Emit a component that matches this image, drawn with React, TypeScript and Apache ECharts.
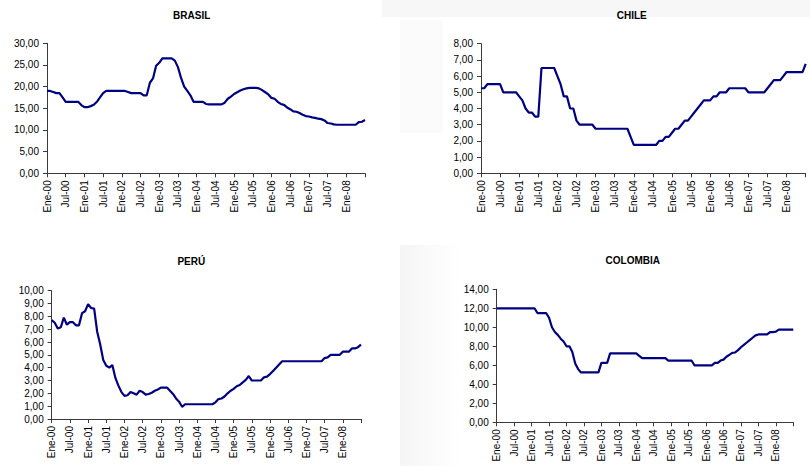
import React, { useEffect, useRef } from "react";
import * as echarts from "echarts";

const monthNames = ["Ene", "Feb", "Mar", "Abr", "May", "Jun", "Jul", "Ago", "Sep", "Oct", "Nov", "Dic"];
const years = ["00", "01", "02", "03", "04", "05", "06", "07", "08"];
const lastMonthOf2008 = 7; // Ene-00 .. Jul-08

const months: string[] = [];
years.forEach((y, yi) => {
  monthNames.forEach((m, mi) => {
    if (yi < years.length - 1 || mi < lastMonthOf2008) months.push(m + "-" + y);
  });
});

const titles = ["BRASIL", "CHILE", "PERÚ", "COLOMBIA"];

const brasil = [
  19.0, 19.0, 18.75, 18.5, 18.5, 17.5, 16.5, 16.5, 16.5, 16.5, 16.5, 15.75,
  15.25, 15.25, 15.5, 15.8, 16.5, 17.5, 18.5, 19.0, 19.0, 19.0, 19.0, 19.0,
  19.0, 19.0, 18.75, 18.5, 18.5, 18.5, 18.5, 18.0, 18.0, 20.9, 21.9, 24.8,
  25.5, 26.5, 26.5, 26.5, 26.5, 26.0, 24.5, 22.0, 20.0, 19.0, 18.0, 16.5,
  16.5, 16.5, 16.5, 16.0, 15.9, 15.9, 15.9, 15.9, 15.9, 16.3, 17.2, 17.7,
  18.3, 18.7, 19.1, 19.4, 19.6, 19.7, 19.7, 19.7, 19.6, 19.2, 18.7, 18.2,
  17.4, 17.2, 16.5, 16.0, 15.8, 15.2, 14.8, 14.3, 14.2, 13.9, 13.5, 13.2,
  13.1, 12.9, 12.8, 12.6, 12.5, 12.2, 11.6, 11.5, 11.3, 11.2, 11.2, 11.2,
  11.2, 11.2, 11.2, 11.2, 11.8, 11.9, 12.3,
];

const chile = [
  5.25, 5.25, 5.5, 5.5, 5.5, 5.5, 5.5, 5.0, 5.0, 5.0, 5.0, 5.0,
  4.75, 4.5, 4.0, 3.75, 3.75, 3.5, 3.5, 6.5, 6.5, 6.5, 6.5, 6.5,
  6.0, 5.5, 4.75, 4.75, 4.0, 4.0, 3.25, 3.0, 3.0, 3.0, 3.0, 3.0,
  2.75, 2.75, 2.75, 2.75, 2.75, 2.75, 2.75, 2.75, 2.75, 2.75, 2.75, 2.25,
  1.75, 1.75, 1.75, 1.75, 1.75, 1.75, 1.75, 1.75, 2.0, 2.0, 2.25, 2.25,
  2.5, 2.75, 2.75, 3.0, 3.25, 3.25, 3.5, 3.75, 4.0, 4.25, 4.5, 4.5,
  4.5, 4.75, 4.75, 5.0, 5.0, 5.0, 5.25, 5.25, 5.25, 5.25, 5.25, 5.25,
  5.0, 5.0, 5.0, 5.0, 5.0, 5.0, 5.25, 5.5, 5.75, 5.75, 5.75, 6.0,
  6.25, 6.25, 6.25, 6.25, 6.25, 6.25, 6.75,
];

const peru = [
  7.7, 7.5, 7.05, 7.15, 7.9, 7.35, 7.55, 7.55, 7.3, 7.3, 8.25, 8.4,
  8.95, 8.65, 8.6, 6.8, 5.8, 4.6, 4.15, 4.0, 4.2, 3.2, 2.6, 2.1,
  1.8, 1.85, 2.1, 2.0, 1.9, 2.2, 2.1, 1.9, 1.95, 2.05, 2.2, 2.3,
  2.45, 2.45, 2.45, 2.2, 1.95, 1.6, 1.35, 0.95, 1.15, 1.15, 1.15, 1.15,
  1.15, 1.15, 1.15, 1.15, 1.15, 1.15, 1.3, 1.55, 1.6, 1.75, 2.0, 2.2,
  2.35, 2.55, 2.65, 2.85, 3.05, 3.35, 3.0, 3.0, 3.0, 3.0, 3.25, 3.3,
  3.5, 3.75, 4.0, 4.25, 4.5, 4.5, 4.5, 4.5, 4.5, 4.5, 4.5, 4.5,
  4.5, 4.5, 4.5, 4.5, 4.5, 4.5, 4.75, 4.8, 5.0, 5.0, 5.0, 5.0,
  5.25, 5.25, 5.25, 5.5, 5.5, 5.6, 5.8,
];

const colombia = [
  12.0, 12.0, 12.0, 12.0, 12.0, 12.0, 12.0, 12.0, 12.0, 12.0, 12.0, 12.0,
  12.0, 12.0, 11.5, 11.5, 11.5, 11.5, 11.0, 10.0, 9.5, 9.2, 8.8, 8.5,
  8.0, 8.0, 7.4, 6.2, 5.6, 5.25, 5.25, 5.25, 5.25, 5.25, 5.25, 5.25,
  6.25, 6.25, 6.25, 7.25, 7.25, 7.25, 7.25, 7.25, 7.25, 7.25, 7.25, 7.25,
  7.25, 7.0, 6.75, 6.75, 6.75, 6.75, 6.75, 6.75, 6.75, 6.75, 6.75, 6.5,
  6.5, 6.5, 6.5, 6.5, 6.5, 6.5, 6.5, 6.5, 6.0, 6.0, 6.0, 6.0, 6.0,
  6.0, 6.0, 6.25, 6.25, 6.5, 6.6, 6.9, 7.1, 7.3, 7.35, 7.6,
  7.9, 8.15, 8.4, 8.65, 8.9, 9.15, 9.25, 9.25, 9.25, 9.25, 9.5, 9.5,
  9.55, 9.75, 9.75, 9.75, 9.75, 9.75, 9.75,
];

const seriesData = [brasil, chile, peru, colombia];
const yMax = [30, 8, 10, 14];
const yStep = [5, 1, 1, 2];

// layout (pixels)
const grids = [
  { left: 47, top: 43.3, width: 318, height: 130 },
  { left: 481, top: 43.7, width: 324.7, height: 129.6 },
  { left: 51.7, top: 290.7, width: 309.3, height: 128.3 },
  { left: 496.7, top: 289.3, width: 296.6, height: 133 },
];
const titlePos = [
  { x: 191.7, y: 15.5 },
  { x: 631.7, y: 15.5 },
  { x: 191.3, y: 261.5 },
  { x: 632.8, y: 260.7 },
];

const FONT = "'Liberation Sans', Arial, sans-serif";
const AXIS_COLOR = "#3a3a3a";
const LINE_COLOR = "#000080";

export default function App() {
  const ref = useRef<HTMLDivElement>(null);
  useEffect(() => {
    if (!ref.current) return;
    const chart = echarts.init(ref.current, undefined, { renderer: "svg" });
    const fmt = (v: number) => v.toFixed(2).replace(".", ",");
    const option: any = {
      animation: false,
      backgroundColor: "#ffffff",
      textStyle: { fontFamily: FONT },
      graphic: [
        { type: "rect", shape: { x: 382, y: 0, width: 428, height: 17 }, style: { fill: "#f7f7f7" }, silent: true, z: -10 },
        { type: "rect", shape: { x: 400, y: 20, width: 43, height: 113 }, style: { fill: "#fbfbfb" }, silent: true, z: -10 },
        {
          type: "rect",
          shape: { x: 400, y: 245, width: 58, height: 221 },
          style: {
            fill: new echarts.graphic.LinearGradient(0, 0, 1, 0, [
              { offset: 0, color: "#f5f5f5" },
              { offset: 1, color: "#ffffff" },
            ]),
          },
          silent: true,
          z: -10,
        },
        ...titles.map((t, i) => ({
          type: "text",
          x: titlePos[i].x,
          y: titlePos[i].y,
          style: {
            text: t,
            fill: "#000000",
            font: `bold 10px ${FONT}`,
            textAlign: "center",
            textVerticalAlign: "middle",
          },
        })),
      ],
      grid: grids.map((g) => ({ ...g, containLabel: false })),
      xAxis: grids.map((_, i) => ({
        type: "category",
        gridIndex: i,
        data: months,
        boundaryGap: false,
        axisLine: { show: true, lineStyle: { color: AXIS_COLOR, width: 1 } },
        axisTick: {
          show: true,
          length: 4,
          interval: (idx: number) => idx % 6 === 0,
          lineStyle: { color: AXIS_COLOR },
        },
        axisLabel: {
          interval: (idx: number) => idx % 6 === 0 && idx <= 96,
          rotate: 90,
          margin: 7,
          color: "#000000",
          fontSize: 10,
          fontFamily: FONT,
        },
        splitLine: { show: false },
      })),
      yAxis: grids.map((_, i) => ({
        type: "value",
        gridIndex: i,
        min: 0,
        max: yMax[i],
        interval: yStep[i],
        axisLine: { show: true, lineStyle: { color: AXIS_COLOR, width: 1 } },
        axisTick: { show: true, length: 4, lineStyle: { color: AXIS_COLOR } },
        axisLabel: {
          formatter: fmt,
          margin: 8,
          color: "#000000",
          fontSize: 10,
          fontFamily: FONT,
        },
        splitLine: { show: false },
      })),
      series: seriesData.map((d, i) => ({
        type: "line",
        xAxisIndex: i,
        yAxisIndex: i,
        data: d,
        showSymbol: false,
        symbol: "none",
        lineStyle: { color: LINE_COLOR, width: 2.2 },
        itemStyle: { color: LINE_COLOR },
      })),
    };
    chart.setOption(option);
    return () => chart.dispose();
  }, []);
  return (
    <div
      ref={ref}
      style={{ position: "absolute", left: 0, top: 0, width: 810, height: 466, background: "#fff" }}
    />
  );
}
